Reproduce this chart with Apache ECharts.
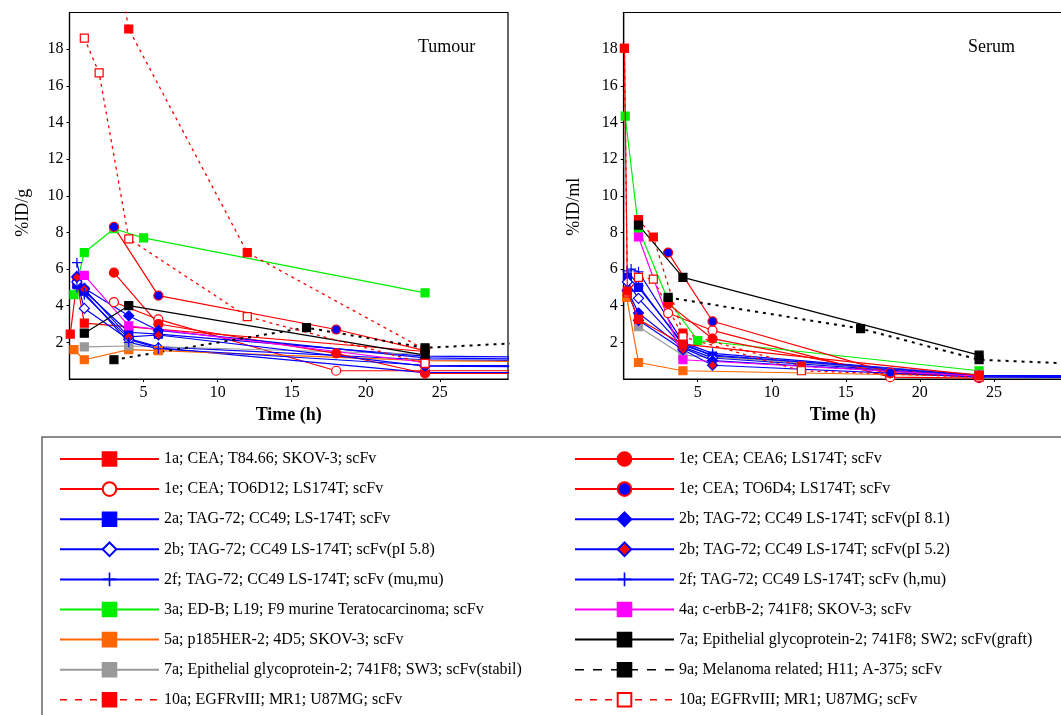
<!DOCTYPE html>
<html><head><meta charset="utf-8">
<script src="https://cdn.jsdelivr.net/npm/echarts@6/dist/echarts.min.js"></script>
<style>html,body{margin:0;padding:0;background:#fff}#c{width:1061px;height:715px}</style>
</head><body><div id="c"></div>
<script>
// ---------- legend names ----------
const legendLeft = [
  '1a; CEA; T84.66; SKOV-3; scFv',
  '1e; CEA; TO6D12; LS174T; scFv',
  '2a; TAG-72; CC49; LS-174T; scFv',
  '2b; TAG-72; CC49 LS-174T; scFv(pI 5.8)',
  '2f; TAG-72; CC49 LS-174T; scFv (mu,mu)',
  '3a; ED-B; L19; F9 murine Teratocarcinoma; scFv',
  '5a; p185HER-2; 4D5; SKOV-3; scFv',
  '7a; Epithelial glycoprotein-2; 741F8; SW3; scFv(stabil)',
  '10a; EGFRvIII; MR1; U87MG; scFv'
];
const legendRight = [
  '1e; CEA; CEA6; LS174T; scFv',
  '1e; CEA; TO6D4; LS174T; scFv',
  '2b; TAG-72; CC49 LS-174T; scFv(pI 8.1)',
  '2b; TAG-72; CC49 LS-174T; scFv(pI 5.2)',
  '2f; TAG-72; CC49 LS-174T; scFv (h,mu)',
  '4a; c-erbB-2; 741F8; SKOV-3; scFv',
  '7a; Epithelial glycoprotein-2; 741F8; SW2; scFv(graft)',
  '9a; Melanoma related; H11; A-375; scFv',
  '10a; EGFRvIII; MR1; U87MG; scFv '
];
const xTicks = [5, 10, 15, 20, 25];
const yTicks = [2, 4, 6, 8, 10, 12, 14, 16, 18];

// ---------- data: [time (h), value] ----------
// Tumour (%ID/g)
const tum1a   = [[0.05,2.45],[0.5,5.3],[1,3.05],[24,1.5]];
const tum1eD12= [[3,4.2],[6,3.25],[18,0.45],[24,0.45],[48,0.45]];
const tum2a   = [[0.5,5.15],[1,4.8],[4,2.55],[6,2.45],[24,1.25],[48,1.05]];
const tum2b58 = [[0.5,5.3],[1,3.85],[4,2.15],[6,1.7],[24,0.35],[48,0.35]];
const tum2fmm = [[0.5,6.35],[1,4.6],[4,2.2],[6,1.75],[24,1.05],[48,0.9]];
const tum3a   = [[0.3,4.6],[1,6.9],[3,8.2],[5,7.7],[24,4.7]];
const tum5a   = [[0.3,1.6],[1,1.05],[4,1.6],[6,1.55],[24,1.0],[48,0.85]];
const tum7aS  = [[1,1.75],[4,1.8],[24,1.35]];
const tum10aF = [[2,28],[4,19.1],[12,6.9],[24,1.6]];
const tum1eC6 = [[3,5.8],[6,3.0],[18,1.4],[24,0.3],[48,0.3]];
const tum1eD4 = [[3,8.3],[6,4.55],[18,2.7],[24,1.55]];
const tum2b81 = [[0.5,5.6],[1,4.95],[4,3.45],[6,2.65],[24,1.15],[48,0.95]];
const tum2b52 = [[0.5,5.55],[1,4.9],[4,2.3],[6,2.4],[24,0.7],[48,0.6]];
const tum2fhm = [[0.5,5.0],[1,4.7],[4,2.0],[6,1.65],[24,0.75],[48,0.65]];
const tum4a   = [[1,5.65],[4,2.9],[24,0.9]];
const tum7aG  = [[1,2.5],[4,4.0],[24,1.3]];
const tum9a   = [[3,1.05],[16,2.8],[24,1.7],[48,2.7]];
const tum10aO = [[1,18.6],[2,16.7],[4,7.65],[12,3.4],[24,0.85]];
// Serum (%ID/ml)
const ser1a   = [[0.05,18.05],[0.25,4.8],[1,3.25],[4,1.9],[24,0.2]];
const ser1eD12= [[3,3.6],[6,2.65],[18,0.1],[24,0.05]];
const ser2a   = [[0.25,5.55],[1,5.0],[4,1.95],[6,1.25],[24,0.2],[48,0.1]];
const ser2b58 = [[0.25,5.3],[1,4.4],[4,1.75],[6,1.15],[24,0.15],[48,0.1]];
const ser2fmm = [[0.5,6.0],[1,5.85],[4,2.0],[6,1.4],[24,0.2],[48,0.1]];
const ser3a   = [[0.1,14.35],[1,8.2],[3,4.3],[5,2.1],[24,0.45]];
const ser5a   = [[0.2,4.45],[1,0.9],[4,0.45],[24,0.15],[48,0.1]];
const ser7aS  = [[1,2.85],[4,1.3],[24,0.25]];
const ser10aF = [[1,8.7],[2,7.75],[4,2.5],[12,0.7],[24,0.2]];
const ser1eC6 = [[3,4.1],[6,2.2],[18,0.3],[24,0.15]];
const ser1eD4 = [[3,6.9],[6,3.15],[18,0.35],[24,0.15]];
const ser2b81 = [[0.25,4.85],[1,3.6],[4,1.7],[6,1.0],[24,0.15],[48,0.1]];
const ser2b52 = [[0.25,4.8],[1,3.2],[4,1.6],[6,0.75],[24,0.1],[48,0.05]];
const ser2fhm = [[0.25,5.9],[1,5.1],[4,1.85],[6,1.3],[24,0.2],[48,0.1]];
const ser4a   = [[1,7.75],[4,1.05],[24,0.15]];
const ser7aG  = [[1,8.4],[4,5.55],[24,1.3]];
const ser9a   = [[3,4.45],[16,2.75],[24,1.05],[48,0.25]];
const ser10aO = [[0.05,18.05],[0.25,4.7],[1,5.55],[2,5.45],[4,2.3],[12,0.45],[24,0.1]];

// ---------- styles ----------
const RED='#ff0000', BLUE='#0000ff', GREEN='#00ee00', MAG='#ff00ff', ORA='#ff6600', GRAY='#999999', BLK='#000000';
const PLUS = 'path://M4.4,0h1.2v10h-1.2zM0,4.4h10v1.2h-10z';
const FONT = '"Liberation Serif", "DejaVu Serif", serif';

const defs = [
  {name: legendLeft[0], line: RED, sym:'rect', fill: RED, border: RED, size: 8, t: tum1a, s: ser1a, zs: 4},
  {name: legendLeft[1], line: RED, sym:'circle', fill:'#ffffff', border: RED, size: 9, t: tum1eD12, s: ser1eD12},
  {name: legendLeft[2], line: BLUE, sym:'rect', fill: BLUE, border: BLUE, size: 8, t: tum2a, s: ser2a},
  {name: legendLeft[3], line: BLUE, sym:'diamond', fill:'#ffffff', border: BLUE, size: 10, t: tum2b58, s: ser2b58},
  {name: legendLeft[4], line: BLUE, sym: PLUS, fill: BLUE, border: null, size: 10, t: tum2fmm, s: ser2fmm},
  {name: legendLeft[5], line: GREEN, sym:'rect', fill: GREEN, border: GREEN, size: 8, t: tum3a, s: ser3a},
  {name: legendLeft[6], line: ORA, sym:'rect', fill: ORA, border: ORA, size: 8, t: tum5a, s: ser5a},
  {name: legendLeft[7], line: GRAY, sym:'rect', fill: GRAY, border: GRAY, size: 8, t: tum7aS, s: ser7aS},
  {name: legendLeft[8], line: RED, sym:'rect', fill: RED, border: RED, size: 8, t: tum10aF, s: ser10aF, dash:[3,4], lw:1.3},
  {name: legendRight[0], line: RED, sym:'circle', fill: RED, border: RED, size: 9, t: tum1eC6, s: ser1eC6},
  {name: legendRight[1], line: RED, sym:'circle', fill: BLUE, border: RED, size: 9, t: tum1eD4, s: ser1eD4},
  {name: legendRight[2], line: BLUE, sym:'diamond', fill: BLUE, border: BLUE, size: 10, t: tum2b81, s: ser2b81},
  {name: legendRight[3], line: BLUE, sym:'diamond', fill: RED, border: BLUE, size: 10, t: tum2b52, s: ser2b52},
  {name: legendRight[4], line: BLUE, sym: PLUS, fill: BLUE, border: null, size: 10, t: tum2fhm, s: ser2fhm},
  {name: legendRight[5], line: MAG, sym:'rect', fill: MAG, border: MAG, size: 8, t: tum4a, s: ser4a},
  {name: legendRight[6], line: BLK, sym:'rect', fill: BLK, border: BLK, size: 8, t: tum7aG, s: ser7aG},
  {name: legendRight[7], line: BLK, sym:'rect', fill: BLK, border: BLK, size: 8, t: tum9a, s: ser9a, dash:[3,5], lw:2},
  {name: legendRight[8], line: RED, sym:'rect', fill:'#ffffff', border: RED, size: 8, t: tum10aO, s: ser10aO, dash:[3,4], lw:1.3}
];

const series = [];
defs.forEach(d => {
  [[0, d.t], [1, d.s]].forEach(([gi, data]) => {
    series.push({
      name: d.name, type: 'line', xAxisIndex: gi, yAxisIndex: gi, data: data,
      z: (gi === 1 && d.zs) ? d.zs : 2,
      symbol: d.sym, symbolSize: d.size, showSymbol: true, clip: true, animation: false,
      lineStyle: {color: d.line, width: d.lw || 1.2, type: d.dash || 'solid'},
      itemStyle: {color: d.fill, borderColor: d.border || d.fill, borderWidth: d.border ? 1.2 : 0, opacity: 1},
      emphasis: {disabled: true}
    });
  });
});

function legendData(arr) {
  return arr.map(n => {
    const d = defs.find(x => x.name === n);
    const o = {name: n};
    if (d.dash) o.lineStyle = {type: d.lw === 2 ? [9, 9] : [7, 8], width: 1.5};
    return o;
  });
}

const axisCommonX = (gi) => ({
  gridIndex: gi, type: 'value', min: 0, max: 29.6, interval: 5,
  name: 'Time (h)', nameLocation: 'middle', nameGap: 27,
  nameTextStyle: {fontFamily: FONT, fontSize: 18, fontWeight: 'bold', color: '#000'},
  axisLine: {show: true, onZero: false, lineStyle: {color: '#000', width: 1.2}},
  axisTick: {show: true, length: 3, inside: false, lineStyle: {color: '#000'}},
  axisLabel: {fontFamily: FONT, fontSize: 16, color: '#000', margin: 6, showMinLabel: false, showMaxLabel: false,
    formatter: v => xTicks.includes(v) ? String(v) : ''},
  splitLine: {show: false}
});
const axisCommonY = (gi, name, gap, pad) => ({
  gridIndex: gi, type: 'value', min: 0, max: 20, interval: 2,
  name: name, nameLocation: 'middle', nameGap: gap,
  nameTextStyle: {fontFamily: FONT, fontSize: 18, color: '#000', padding: pad},
  axisLine: {show: true, onZero: false, lineStyle: {color: '#000', width: 1.2}},
  axisTick: {show: true, length: 3, inside: false, lineStyle: {color: '#000'}},
  axisLabel: {fontFamily: FONT, fontSize: 16, color: '#000', margin: 6, showMinLabel: false, showMaxLabel: false,
    formatter: v => yTicks.includes(v) ? String(v) : ''},
  splitLine: {show: false}
});

const legendCommon = {
  orient: 'vertical', itemWidth: 99, itemHeight: 17, itemGap: 13.1, padding: 0,
  selectedMode: false, textStyle: {fontFamily: FONT, fontSize: 16, color: '#000', lineHeight: 17}
};

const chart = echarts.init(document.getElementById('c'), null, {renderer: 'canvas'});
chart.setOption({
  backgroundColor: '#ffffff',
  animation: false,
  textStyle: {fontFamily: FONT},
  title: [
    {text: 'Tumour', left: 413, top: 33, textStyle: {fontFamily: FONT, fontSize: 18, fontWeight: 'normal', color: '#000'}},
    {text: 'Serum', left: 963, top: 33, textStyle: {fontFamily: FONT, fontSize: 18, fontWeight: 'normal', color: '#000'}}
  ],
  grid: [
    {left: 69.5, top: 12.5, width: 438.5, height: 366.5, show: true, borderColor: '#000', borderWidth: 1.2, backgroundColor: 'transparent', containLabel: false, outerBoundsMode: 'none'},
    {left: 623.7, top: 12.5, width: 438.3, height: 366.5, show: true, borderColor: '#000', borderWidth: 1.2, backgroundColor: 'transparent', containLabel: false, outerBoundsMode: 'none'}
  ],
  xAxis: [axisCommonX(0), axisCommonX(1)],
  yAxis: [axisCommonY(0, '%ID/g', 37, [0, 34, 0, 0]), axisCommonY(1, '%ID/ml', 40, [0, 22, 0, 0])],
  legend: [
    Object.assign({data: legendData(legendLeft), left: 59, top: 450.5, height: 262}, legendCommon),
    Object.assign({data: legendData(legendRight), left: 574, top: 450.5, height: 262}, legendCommon)
  ],
  graphic: [
    {type: 'rect', silent: true, z: -1, shape: {x: 42, y: 437, width: 1100, height: 400}, style: {fill: 'none', stroke: '#666', lineWidth: 1.5}}
  ],
  series: series
});
</script></body></html>
